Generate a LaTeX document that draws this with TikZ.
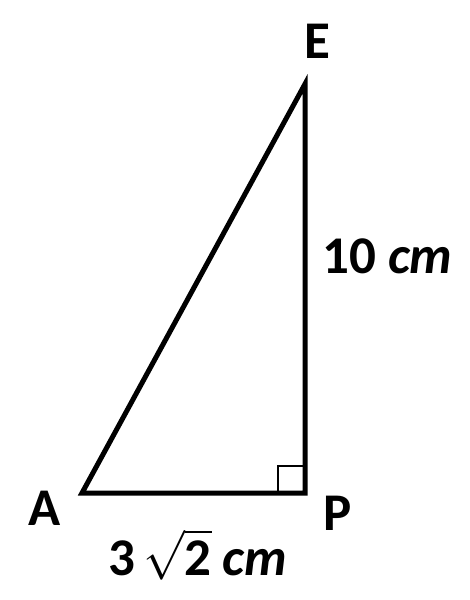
\documentclass[tikz,border=0pt]{standalone}
\usepackage{amsmath}
\usepackage{fontspec}
\setmainfont{Carlito}
\usepackage{tikz}

\begin{document}
\begin{tikzpicture}[x = 0.5pt, y = -0.5pt, lbl/.style = {inner sep = 0, anchor = base, font = \fontsize{26.5}{30}\selectfont\bfseries}]
			\useasboundingbox (0,0) rectangle (470,600);
			\coordinate (a) at (82,493);
			\coordinate (p) at (305,493);
			\coordinate (e) at (305,84);
			\draw [line width = 2.5pt, line join = miter] (a) -- (p) -- (e) -- cycle;
			\draw [line width = 1pt] (278,493) |- (305,466);
			\node (la) at (45,525) [lbl] {A};
			\node (lp) at (338,530) [lbl] {P};
			\node (le) at (317,58) [lbl] {E};
			\node (ep) at (322,273) [lbl, anchor = base west] {10 \textit{cm}};
			\node (ap) at (108,575) [lbl, anchor = base west] {3\kern-2pt\ $\sqrt{\text{\bfseries 2}}$\kern-0.5pt\ \textit{cm}};
			\end{tikzpicture}
\end{document}
